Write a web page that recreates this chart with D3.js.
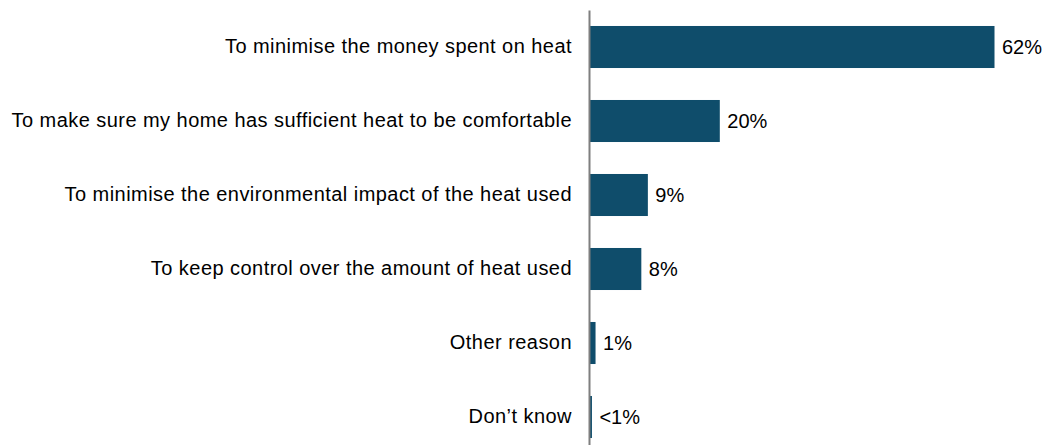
<!DOCTYPE html>
<html><head><meta charset="utf-8">
<script src="https://cdn.jsdelivr.net/npm/d3@7"></script>
<style>body{margin:0;background:#fff}svg{display:block}</style>
</head><body>
<svg id="c" width="1048" height="445"></svg>
<script>
const categories = [
  "To minimise the money spent on heat",
  "To make sure my home has sufficient heat to be comfortable",
  "To minimise the environmental impact of the heat used",
  "To keep control over the amount of heat used",
  "Other reason",
  "Don\u2019t know"
];
const values = [62, 20, 9, 8, 1, 0.45];
const valueLabels = ["62%", "20%", "9%", "8%", "1%", "<1%"];

const svg = d3.select("#c");
const x0 = 589;
const x = d3.scaleLinear().domain([0, 62]).range([x0, 994.5]);
const y = d3.scaleBand().domain(categories).range([10, 454]).paddingInner(0.432).paddingOuter(0.216);

const font = "'Liberation Sans', Arial, sans-serif";

svg.selectAll("rect.bar").data(categories).join("rect")
  .attr("class", "bar")
  .attr("x", x(0))
  .attr("y", d => y(d))
  .attr("width", (d, i) => x(values[i]) - x(0))
  .attr("height", y.bandwidth())
  .attr("fill", "#0f4d6b");

const axis = d3.axisLeft(y).tickSize(0).tickPadding(17);
const g = svg.append("g").attr("transform", `translate(${x0},0)`).call(axis);
g.select(".domain").attr("stroke", "#7f7f7f").attr("stroke-width", 2);
g.selectAll("text").attr("font-family", font).attr("font-size", "20px")
  .attr("letter-spacing", "0.45px").attr("fill", "#000");

svg.selectAll("text.val").data(categories).join("text")
  .attr("class", "val")
  .attr("x", (d, i) => x(values[i]) + 7.5)
  .attr("y", d => y(d) + y.bandwidth() / 2)
  .attr("dy", "0.35em")
  .attr("font-family", font).attr("font-size", "20px").attr("fill", "#000")
  .text((d, i) => valueLabels[i]);
</script>
</body></html>
